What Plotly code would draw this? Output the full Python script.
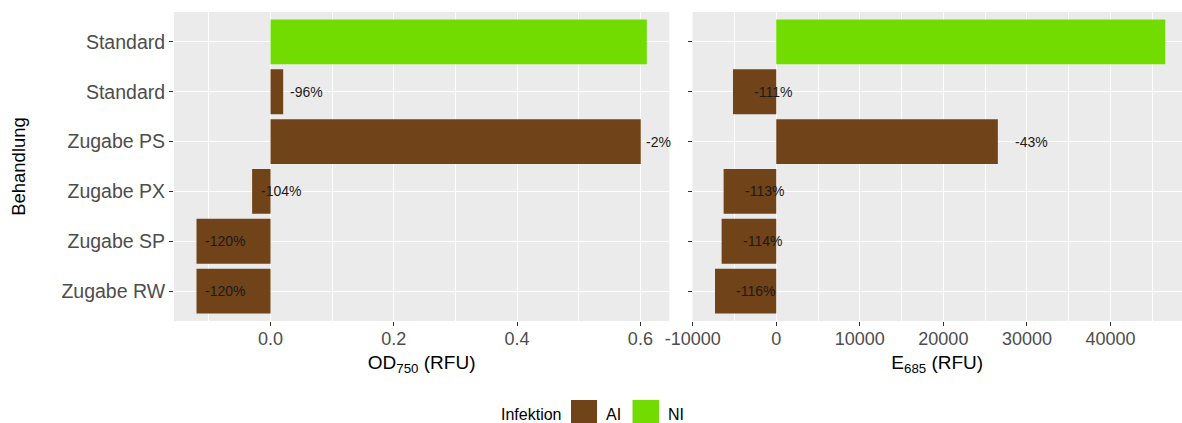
import plotly.graph_objects as go

# ---------------- data ----------------
categories = ["Standard", "Standard", "Zugabe PS", "Zugabe PX", "Zugabe SP", "Zugabe RW"]
infektion = ["NI", "AI", "AI", "AI", "AI", "AI"]
od750 = [0.6104, 0.0205, 0.6006, -0.0299, -0.1201, -0.1201]
e685 = [46560, -5180, 26520, -6300, -6540, -7330]
od_labels = ["", "-96%", "-2%", "-104%", "-120%", "-120%"]
e_labels = ["", "-111%", "-43%", "-113%", "-114%", "-116%"]
groups = ["AI", "NI"]
group_colors = {"AI": "#704319", "NI": "#72DB00"}
od_ticks = [0.0, 0.2, 0.4, 0.6]
od_ticktext = ["0.0", "0.2", "0.4", "0.6"]
e_ticks = [-10000, 0, 10000, 20000, 30000, 40000]
e_ticktext = ["-10000", "0", "10000", "20000", "30000", "40000"]

# ---------------- layout constants ----------------
W, H = 1182, 423
FONT = "Liberation Sans, Arial, Helvetica, sans-serif"
PANEL_BG = "#EBEBEB"
TICK_COL = "#4D4D4D"

n = len(categories)
ypos = [n - i for i in range(n)]  # first category on top

x1_dom = [174 / W, 669.3 / W]
x2_dom = [692.5 / W, 1.0]
y_dom = [1 - 321 / H, 1 - 12 / H]


def expand(vals, mult=0.05):
    lo, hi = min(vals), max(vals)
    span = hi - lo
    return [lo - mult * span, hi + mult * span]


r1 = expand(od750)
r2_full = expand(e685)
# right panel is as wide as the left one but cropped by the image edge
frac = (x2_dom[1] - x2_dom[0]) / (x1_dom[1] - x1_dom[0])
r2 = [r2_full[0], r2_full[0] + (r2_full[1] - r2_full[0]) * frac]

fig = go.Figure()

for xa, ya, vals in (("x", "y", od750), ("x2", "y2", e685)):
    for g in groups:
        xs = [v for v, gg in zip(vals, infektion) if gg == g]
        ys = [p for p, gg in zip(ypos, infektion) if gg == g]
        fig.add_trace(go.Bar(
            x=xs, y=ys, orientation="h", width=0.9,
            marker=dict(color=group_colors[g], line=dict(width=0)),
            name=g, showlegend=False, xaxis=xa, yaxis=ya,
        ))

# percentage labels (ggplot-like hjust offsets)
CHAR_EM = {"-": 0.333, "%": 0.889}


def em_width(s):
    return sum(CHAR_EM.get(c, 0.556) for c in s)


annotations = []
for xa, ya, vals, labs, hj in (("x", "y", od750, od_labels, 0.2),
                                ("x2", "y2", e685, e_labels, 0.5)):
    for v, p, lab in zip(vals, ypos, labs):
        if not lab:
            continue
        annotations.append(dict(
            x=v, y=p, xref=xa, yref=ya, text=lab, showarrow=False,
            xanchor="left", yanchor="middle", borderpad=0, borderwidth=0,
            xshift=hj * em_width(lab) * 14.8,
            font=dict(family=FONT, size=14, color="#1A1A1A"),
        ))

# manual legend (bottom)
leg_y = 1 - 414 / H
annotations.append(dict(x=562 / W, y=leg_y, xref="paper", yref="paper", text="Infektion",
                        showarrow=False, xanchor="right", yanchor="middle",
                        borderpad=0, font=dict(family=FONT, size=16, color="black")))
shapes = []
sw = [(571, 597, "AI", 605), (632.5, 659, "NI", 667)]
for x0, x1, g, tx in sw:
    shapes.append(dict(type="rect", xref="paper", yref="paper",
                       x0=x0 / W, x1=x1 / W, y0=1 - 428 / H, y1=1 - 400 / H,
                       fillcolor=group_colors[g], line=dict(width=0)))
    annotations.append(dict(x=tx / W, y=leg_y, xref="paper", yref="paper", text=g,
                            showarrow=False, xanchor="left", yanchor="middle",
                            borderpad=0, font=dict(family=FONT, size=16, color="black")))

common_x = dict(
    showgrid=True, gridcolor="white", gridwidth=1.1, zeroline=False,
    ticks="outside", ticklen=4, tickwidth=1, tickcolor="#333333",
    tickfont=dict(family=FONT, size=18, color=TICK_COL),
    ticklabelstandoff=-3,
    showline=False, automargin=False,
)

fig.update_layout(
    width=W, height=H, template="none",
    margin=dict(l=0, r=0, t=0, b=0, autoexpand=False),
    paper_bgcolor="white", plot_bgcolor=PANEL_BG,
    barmode="overlay", showlegend=False,
    font=dict(family=FONT),
    annotations=annotations, shapes=shapes,
    xaxis=dict(domain=x1_dom, anchor="y", range=r1,
               tickvals=od_ticks, ticktext=od_ticktext,
               minor=dict(dtick=0.1, tick0=0, showgrid=True, gridcolor="white", gridwidth=0.55, ticks=""),
               title=dict(text="OD<sub>750</sub> (RFU)", font=dict(family=FONT, size=19, color="black"), standoff=8),
               **common_x),
    xaxis2=dict(domain=x2_dom, anchor="y2", range=r2,
                tickvals=e_ticks, ticktext=e_ticktext,
                minor=dict(dtick=5000, tick0=0, showgrid=True, gridcolor="white", gridwidth=0.55, ticks=""),
                title=dict(text="E<sub>685</sub> (RFU)", font=dict(family=FONT, size=19, color="black"), standoff=8),
                **common_x),
    yaxis=dict(domain=y_dom, anchor="x", range=[0.4, n + 0.6],
               tickvals=ypos, ticktext=categories,
               showgrid=True, gridcolor="white", gridwidth=1.1, zeroline=False,
               ticks="outside", ticklen=4, tickcolor="#333333",
               tickfont=dict(family=FONT, size=19.5, color=TICK_COL),
               title=dict(text="Behandlung", font=dict(family=FONT, size=18.5, color="black"), standoff=30),
               automargin=False),
    yaxis2=dict(domain=y_dom, anchor="x2", matches="y", range=[0.4, n + 0.6],
                tickvals=ypos, showticklabels=False,
                showgrid=True, gridcolor="white", gridwidth=1.1, zeroline=False,
                ticks="outside", ticklen=4, tickcolor="#333333",
                automargin=False),
)

fig.write_html(
    "out.html",
    config={"displayModeBar": False},
    post_script="document.body.style.margin='0';document.body.style.overflow='hidden';",
)
